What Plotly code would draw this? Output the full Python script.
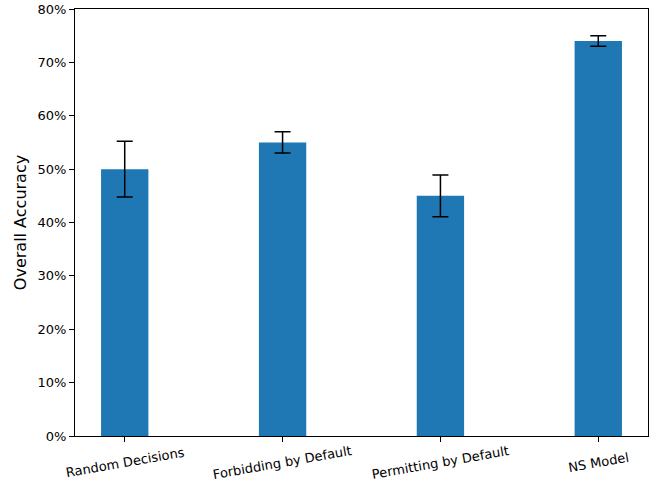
import plotly.graph_objects as go

categories = ["Random Decisions", "Forbidding by Default", "Permitting by Default", "NS Model"]
accuracy = [50.0, 55.0, 45.0, 74.0]
errors = [5.2, 2.0, 3.9, 1.0]
y_ticks = [0, 10, 20, 30, 40, 50, 60, 70, 80]

x_pos = list(range(len(categories)))

fig = go.Figure(
    go.Bar(
        x=x_pos,
        y=accuracy,
        width=0.3,
        marker=dict(color="#1f77b4", line=dict(width=0)),
        error_y=dict(type="data", array=errors, visible=True,
                     color="black", thickness=1.5, width=8),
    )
)

# Rotated category labels, centred under each tick
for i, name in zip(x_pos, categories):
    fig.add_annotation(
        x=i, y=-0.062, xref="x", yref="paper",
        text=name, showarrow=False, textangle=-10,
        xanchor="center", yanchor="middle",
        font=dict(size=13),
    )

font = "DejaVu Sans, sans-serif"
fig.update_layout(
    width=652, height=485,
    margin=dict(l=75, r=4, t=9, b=49),
    plot_bgcolor="white", paper_bgcolor="white",
    showlegend=False,
    font=dict(family=font, color="black", size=13),
    xaxis=dict(
        range=[-0.315, 3.315], automargin=False,
        tickmode="array", tickvals=x_pos, showticklabels=False,
        showline=True, linecolor="black", linewidth=1, mirror=True,
        ticks="outside", ticklen=5, tickcolor="black",
        showgrid=False, zeroline=False,
    ),
    yaxis=dict(
        range=[0, 80], automargin=False,
        tickmode="array", tickvals=y_ticks,
        ticktext=[f"{v}%" for v in y_ticks],
        showline=True, linecolor="black", linewidth=1, mirror=True,
        ticks="outside", ticklen=5, tickcolor="black",
        showgrid=False, zeroline=False,
        title=dict(text="Overall Accuracy", font=dict(size=16), standoff=6),
        tickfont=dict(size=13),
    ),
)

fig.write_html("out.html")
